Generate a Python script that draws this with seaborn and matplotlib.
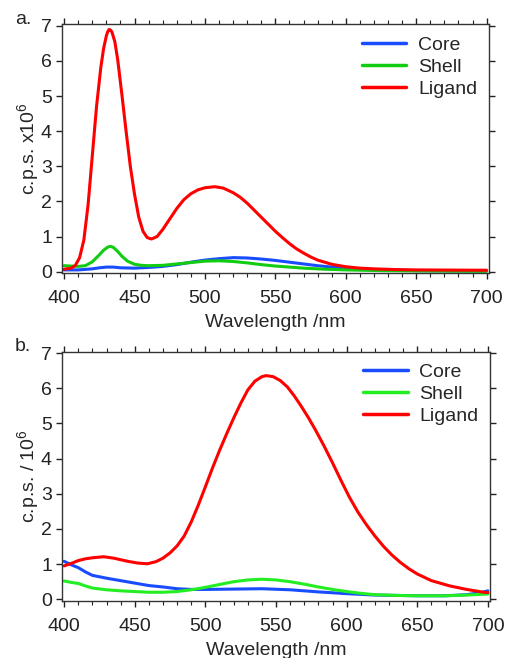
import numpy as np
import matplotlib
matplotlib.use('Agg')
import matplotlib.pyplot as plt
from matplotlib.ticker import MultipleLocator
import seaborn as sns
import pandas as pd

# panel a: emission spectra (c.p.s. x 1e6)
a_core_wl = [400, 410, 420, 425, 430, 435, 440, 450, 460, 470, 480, 490, 500, 510, 520, 530,
             540, 550, 560, 570, 580, 590, 600, 620, 650, 700]
a_core = [0.05, 0.05, 0.08, 0.11, 0.13, 0.13, 0.11, 0.10, 0.12, 0.15, 0.20, 0.27, 0.33, 0.37,
          0.40, 0.39, 0.36, 0.32, 0.27, 0.22, 0.17, 0.13, 0.10, 0.06, 0.03, 0.02]

a_shell_wl = [400, 405, 410, 415, 420, 425, 428, 431, 433, 435, 438, 441, 445, 450, 455, 460,
              470, 480, 490, 500, 510, 520, 530, 540, 550, 560, 570, 585, 600, 625, 650, 700]
a_shell = [0.17, 0.16, 0.15, 0.17, 0.28, 0.48, 0.61, 0.70, 0.72, 0.69, 0.58, 0.44, 0.30, 0.21,
           0.18, 0.17, 0.18, 0.22, 0.26, 0.30, 0.31, 0.29, 0.25, 0.20, 0.16, 0.13, 0.10, 0.07,
           0.05, 0.03, 0.02, 0.01]

a_ligand_wl = [400, 405, 408, 411, 414, 417, 420, 423, 426, 428, 430, 431, 432, 433, 434, 436,
               438, 441, 444, 447, 450, 453, 456, 459, 462, 466, 470, 475, 480, 485, 490, 495,
               500, 507, 513, 520, 525, 530, 535, 540, 545, 550, 555, 560, 565, 570, 575, 580,
               590, 600, 610, 620, 635, 650, 675, 700]
a_ligand = [0.07, 0.10, 0.18, 0.40, 0.90, 1.90, 3.30, 4.70, 5.80, 6.35, 6.72, 6.84, 6.90, 6.88,
            6.82, 6.55, 6.05, 5.05, 4.00, 3.00, 2.20, 1.55, 1.15, 0.97, 0.93, 1.00, 1.20, 1.50,
            1.80, 2.05, 2.22, 2.33, 2.39, 2.42, 2.38, 2.25, 2.12, 1.95, 1.75, 1.55, 1.35, 1.15,
            0.97, 0.80, 0.65, 0.53, 0.42, 0.33, 0.21, 0.14, 0.10, 0.08, 0.06, 0.05, 0.045, 0.04]

# panel b
b_core_wl = [400, 405, 410, 415, 420, 430, 440, 450, 460, 470, 480, 490, 500, 520, 540, 560,
             580, 600, 620, 650, 670, 685, 695, 700]
b_core = [1.08, 0.98, 0.90, 0.78, 0.68, 0.60, 0.53, 0.46, 0.39, 0.35, 0.30, 0.28, 0.28, 0.29,
          0.30, 0.27, 0.21, 0.16, 0.12, 0.10, 0.10, 0.13, 0.19, 0.24]

b_shell_wl = [400, 405, 410, 415, 420, 430, 440, 450, 460, 470, 480, 490, 500, 510, 520, 530,
              540, 550, 560, 570, 580, 590, 600, 610, 620, 635, 650, 670, 685, 700]
b_shell = [0.52, 0.48, 0.45, 0.38, 0.32, 0.27, 0.24, 0.22, 0.20, 0.20, 0.22, 0.27, 0.34, 0.42,
           0.50, 0.55, 0.57, 0.55, 0.50, 0.43, 0.35, 0.28, 0.22, 0.17, 0.13, 0.11, 0.10, 0.10,
           0.12, 0.15]

b_ligand_wl = [400, 405, 410, 415, 420, 428, 435, 445, 452, 459, 465, 470, 475, 480, 485, 490,
               495, 500, 505, 510, 515, 520, 525, 530, 535, 540, 543, 548, 553, 558, 563, 568,
               573, 578, 584, 590, 596, 602, 608, 614, 620, 626, 632, 638, 644, 650, 660, 673,
               685, 697, 700]
b_ligand = [0.95, 1.02, 1.10, 1.15, 1.18, 1.21, 1.17, 1.08, 1.03, 1.01, 1.07, 1.17, 1.32, 1.52,
            1.80, 2.20, 2.68, 3.20, 3.73, 4.23, 4.70, 5.15, 5.57, 5.95, 6.20, 6.33, 6.36, 6.33,
            6.22, 6.04, 5.78, 5.48, 5.16, 4.81, 4.36, 3.88, 3.38, 2.90, 2.48, 2.12, 1.80, 1.51,
            1.26, 1.05, 0.87, 0.72, 0.53, 0.38, 0.28, 0.20, 0.19]

names = ['Core', 'Shell', 'Ligand']
colors_a = ['#1a4cff', '#11cc11', '#ff0000']
colors_b = ['#1a4cff', '#22ee22', '#ff0000']


def build_df(series):
    frames = []
    for name, (wl, val) in zip(names, series):
        frames.append(pd.DataFrame({'wl': wl, 'cps': val, 'sample': name}))
    return pd.concat(frames, ignore_index=True)


sns.set_style('ticks')
plt.rcParams['font.family'] = ['Liberation Sans', 'DejaVu Sans']
plt.rcParams['mathtext.fontset'] = 'custom'
plt.rcParams['mathtext.rm'] = 'Liberation Sans'
plt.rcParams['axes.edgecolor'] = '#333333'
plt.rcParams['axes.linewidth'] = 1.0

fig = plt.figure(figsize=(5.05, 6.58), dpi=100)
ax_a = fig.add_axes([0.1228, 0.585, 0.8450, 0.3778])
ax_b = fig.add_axes([0.1228, 0.0871, 0.8475, 0.3784])

panels = [
    (ax_a, build_df([(a_core_wl, a_core), (a_shell_wl, a_shell), (a_ligand_wl, a_ligand)]),
     colors_a, 'c.p.s. x10$^6$', 'a.'),
    (ax_b, build_df([(b_core_wl, b_core), (b_shell_wl, b_shell), (b_ligand_wl, b_ligand)]),
     colors_b, 'c.p.s. / 10$^6$', 'b.'),
]

for ax, df, cols, ylab, tag in panels:
    sns.lineplot(data=df, x='wl', y='cps', hue='sample', palette=cols, ax=ax,
                 linewidth=2.2, sort=False, estimator=None)
    ax.set_xlim(398.5, 701.5)
    ax.set_ylim(-0.04, 7.04)
    ax.xaxis.set_major_locator(MultipleLocator(50))
    ax.xaxis.set_minor_locator(MultipleLocator(10))
    ax.yaxis.set_major_locator(MultipleLocator(1))
    ax.tick_params(axis='both', which='both', direction='out', top=True, right=True,
                   labelsize=14, colors='#222222')
    ax.tick_params(axis='x', which='major', length=4.3, width=1, pad=8)
    ax.tick_params(axis='x', which='minor', length=2.6, width=0.8, top=True)
    ax.tick_params(axis='y', which='major', length=4.3, width=1, pad=3)
    for sp in ax.spines.values():
        sp.set_visible(True)
    ax.set_xlabel('Wavelength /nm', fontsize=14)
    ax.set_ylabel(ylab, fontsize=14)
    ax.xaxis.set_label_coords(0.5, -0.165)
    ax.yaxis.set_label_coords(-0.047, 0.5)
    leg = ax.legend(loc='upper right', frameon=False, fontsize=14, handlelength=2.3,
                    handletextpad=0.6, labelspacing=0.22, borderaxespad=0.2)
    for line in leg.get_lines():
        line.set_linewidth(2.5)
    ax.text(-0.11, 1.02, tag, transform=ax.transAxes, fontsize=14, ha='left', va='center')

fig.savefig('out.png', dpi=100)
